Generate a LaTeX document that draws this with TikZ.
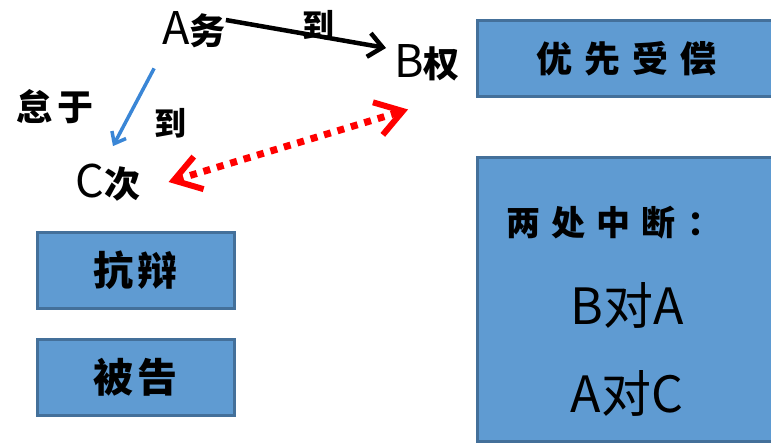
\documentclass[tikz,border=0pt]{standalone}
\usepackage{fontspec}
\setmainfont{Noto Sans CJK SC}
\newfontfamily\widecjk[LetterSpace=33]{Noto Sans CJK SC}
\newfontfamily\halfcjk[LetterSpace=12]{Noto Sans CJK SC}
\usetikzlibrary{arrows.meta,calc}
\definecolor{boxfill}{HTML}{5F9BD2}
\definecolor{boxline}{HTML}{44709A}
\definecolor{linkblue}{HTML}{3A86D6}
\tikzset{
  blockbox/.style={draw=boxline,fill=boxfill,line width=3pt,inner sep=0pt},
  party/.style={inner sep=0pt,font=\fontsize{45}{45}\selectfont},
  tag/.style={inner sep=0pt,font=\bfseries\fontsize{32}{32}\selectfont},
  boxtext/.style={inner sep=0pt,font=\widecjk\bfseries\fontsize{34}{34}\selectfont},
  bigtext/.style={inner sep=0pt,font=\fontsize{50}{50}\selectfont},
}
\newcommand{\cjksmall}[1]{{\bfseries\fontsize{36}{36}\selectfont #1}}
\begin{document}
\begin{tikzpicture}[x=1pt,y=1pt]
  \useasboundingbox (0,0) rectangle (771,445);
  \clip (0,0) rectangle (771,445);
    \node[blockbox,minimum width=299pt,minimum height=76pt,font=\widecjk\bfseries\fontsize{36}{36}\selectfont] (prior) at (626.5,386) {优先受偿};
    \node[blockbox,minimum width=299pt,minimum height=283pt] (bigbox) at (626.5,145.5) {};
    \node[boxtext,anchor=west] (breaks) at (506,222) {两处中断：};
    \node[bigtext] (ba) at (627,140) {B对A};
    \node[bigtext] (ac) at (627,52) {A对C};
    \node[blockbox,minimum width=197pt,minimum height=75pt,font=\halfcjk\bfseries\fontsize{40}{40}\selectfont] (defense) at (135.5,174.5) {抗辩};
    \node[blockbox,minimum width=197pt,minimum height=76pt,font=\halfcjk\bfseries\fontsize{40}{40}\selectfont] (defendant) at (135.5,68) {被告};

    \node[party] (ad) at (194,415) {A\cjksmall{务}};
    \node[party] (bq) at (427,382) {B\cjksmall{权}};
    \node[party] (cc) at (108,262) {C\cjksmall{次}};
    \node[tag] (due1) at (318,420) {到};
    \node[tag,font=\halfcjk\bfseries\fontsize{36}{36}\selectfont] (idle) at (55,338) {怠于};
    \node[tag] (due2) at (170,322) {到};

    \draw[line width=4.5pt,-{Straight Barb[length=14pt,width=24pt]}] ($(ad.east)+(0,10)$) -- ($(bq.west)+(-8,15)$);
    \draw[linkblue,line width=3.5pt,-{Straight Barb[length=10pt,width=16pt]}] ($(ad.south west)+(-8,-20)$) -- ($(cc.north)+(5,18)$);
    \draw[red,line width=7pt,dash pattern=on 7pt off 7pt,{Straight Barb[length=26pt,width=34pt,line width=6pt]}-{Straight Barb[length=26pt,width=34pt,line width=6pt]}] ($(cc.east)+(28,1)$) -- ($(bq.south west)+(14,-28)$);
\end{tikzpicture}
\end{document}
